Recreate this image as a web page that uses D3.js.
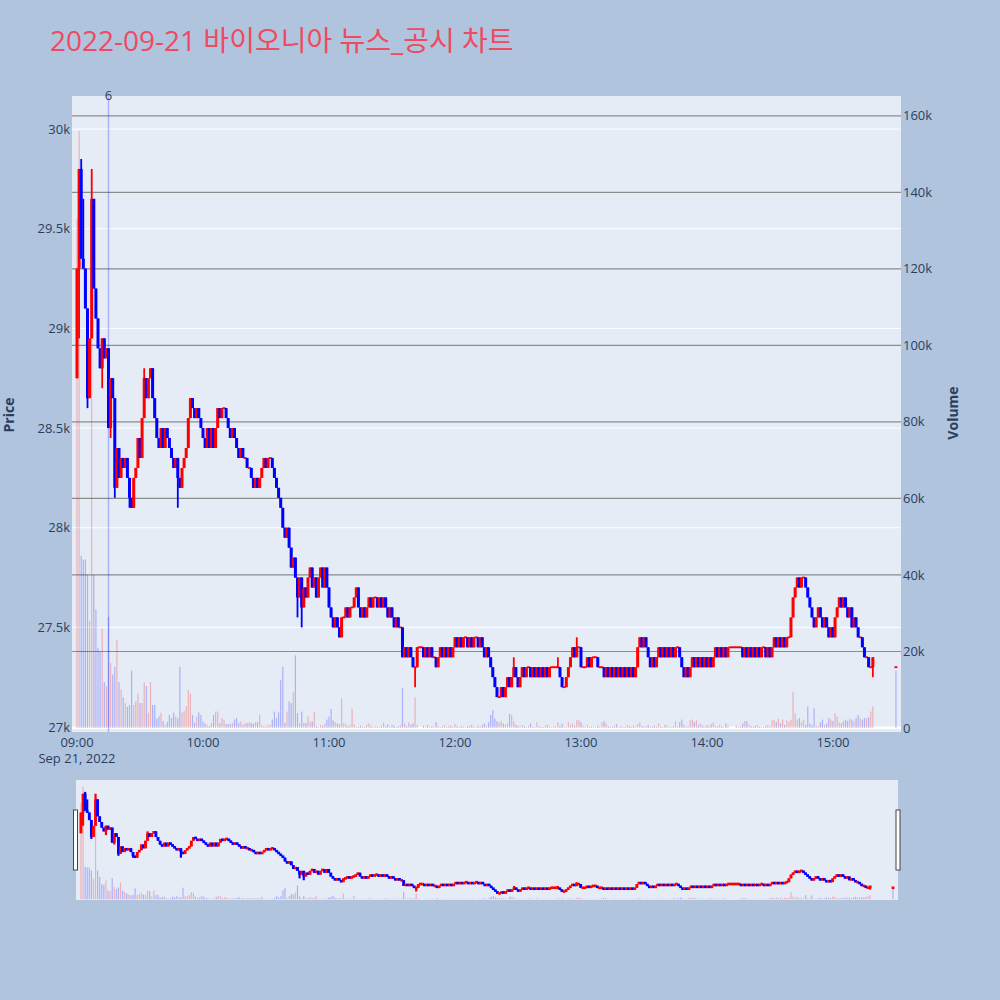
<!DOCTYPE html>
<html>
<head>
<meta charset="utf-8">
<script src="https://cdn.jsdelivr.net/npm/d3@7"></script>
<style>
  body { margin: 0; background: #b0c4de; }
  svg { display: block; }
  text { font-family: "Open Sans", "Noto Sans CJK KR", sans-serif; }
</style>
</head>
<body>
<div id="chart"></div>
<script>
// ---- data (per-minute bars, 09:00 .. 15:19, then 15:30 closing auction) ----
var titleText = "2022-09-21 바이오니아 뉴스_공시 차트";
var sessionStart = new Date(2022, 8, 21, 9, 0);
var firstOpen = 28750;

var closes = [
  29300, 29800, 29350, 29300, 29100, 28650, 28950, 29650, 29200, 29050,
  28900, 28800, 28950, 28850, 28900, 28500, 28750, 28650, 28200, 28400,
  28250, 28350, 28300, 28350, 28250, 28150, 28100, 28250, 28300, 28450,
  28350, 28550, 28750, 28650, 28750, 28800, 28650, 28550, 28450, 28400,
  28500, 28400, 28500, 28450, 28400, 28350, 28300, 28350, 28250, 28200,
  28300, 28350, 28400, 28550, 28650, 28600, 28550, 28600, 28550, 28500,
  28450, 28400, 28500, 28400, 28500, 28400, 28500, 28600, 28550, 28600,
  28600, 28550, 28500, 28450, 28500, 28450, 28400, 28350, 28400, 28350,
  28350, 28300, 28300, 28250, 28200, 28250, 28200, 28250, 28300, 28350,
  28300, 28350, 28350, 28300, 28250, 28200, 28150, 28100, 28000, 27950,
  28000, 27900, 27800, 27850, 27750, 27650, 27750, 27600, 27700, 27650,
  27750, 27800, 27700, 27750, 27650, 27750, 27800, 27700, 27800, 27700,
  27600, 27550, 27500, 27550, 27500, 27450, 27550, 27550, 27600, 27550,
  27600, 27600, 27650, 27700, 27600, 27550, 27600, 27550, 27600, 27650,
  27600, 27650, 27650, 27600, 27650, 27600, 27650, 27600, 27550, 27600,
  27550, 27500, 27550, 27500, 27500, 27350, 27400, 27350, 27400, 27350,
  27300, 27300, 27400, 27400, 27400, 27350, 27400, 27350, 27400, 27350,
  27350, 27300, 27350, 27400, 27350, 27400, 27350, 27400, 27350, 27400,
  27450, 27400, 27450, 27400, 27450, 27450, 27400, 27450, 27400, 27450,
  27450, 27400, 27450, 27400, 27350, 27400, 27350, 27300, 27250, 27200,
  27150, 27150, 27200, 27150, 27200, 27250, 27200, 27250, 27300, 27250,
  27200, 27250, 27300, 27250, 27300, 27300, 27250, 27300, 27250, 27300,
  27250, 27300, 27250, 27300, 27250, 27300, 27300, 27300, 27300, 27300,
  27250, 27200, 27200, 27250, 27300, 27350, 27400, 27350, 27400, 27400,
  27300, 27300, 27300, 27350, 27300, 27350, 27350, 27350, 27300, 27300,
  27300, 27250, 27300, 27250, 27300, 27250, 27300, 27250, 27300, 27250,
  27300, 27250, 27300, 27250, 27300, 27250, 27300, 27400, 27450, 27400,
  27450, 27400, 27350, 27300, 27350, 27300, 27350, 27400, 27350, 27400,
  27350, 27400, 27350, 27400, 27350, 27400, 27400, 27350, 27300, 27250,
  27300, 27250, 27300, 27350, 27300, 27350, 27300, 27350, 27300, 27350,
  27300, 27350, 27300, 27350, 27400, 27350, 27400, 27350, 27400, 27350,
  27400, 27400, 27400, 27400, 27400, 27400, 27400, 27350, 27400, 27350,
  27400, 27350, 27400, 27350, 27400, 27350, 27400, 27400, 27350, 27400,
  27350, 27400, 27450, 27400, 27450, 27400, 27450, 27400, 27450, 27450,
  27550, 27650, 27700, 27750, 27700, 27750, 27750, 27700, 27650, 27600,
  27550, 27500, 27550, 27600, 27550, 27500, 27550, 27500, 27450, 27500,
  27450, 27550, 27600, 27650, 27600, 27650, 27600, 27550, 27600, 27500,
  27550, 27500, 27450, 27450, 27400, 27350, 27350, 27300, 27300, 27350
];

// volume in thousands of shares, one per minute
var volumeK = [
  133, 156, 45, 44, 44, 40, 28, 146, 40, 31,
  21, 20, 26, 12, 11, 29, 17, 14, 16, 23,
  12, 10, 8, 6.5, 5.5, 6, 15, 6, 7, 9,
  6.5, 6.5, 12, 11, 4, 12, 6, 6, 2.4, 3,
  4, 1.8, 0.8, 1.6, 3.4, 2.6, 4, 3, 2.6, 16,
  4.1, 4.4, 5.7, 10, 9, 3.4, 1.4, 3, 4.1, 3.4,
  1.7, 1.2, 0.8, 0.5, 1.3, 3.4, 4.3, 4.3, 1.3, 2.6,
  2.2, 1, 1, 1, 1.3, 2.2, 2.6, 1.3, 1.7, 0.8,
  1.3, 1.3, 1.5, 1.3, 1.1, 1.5, 1.5, 3.5, 0.8, 0.5,
  0.4, 0.8, 0.8, 2.2, 4.3, 2.6, 4.1, 12.5, 16, 1.3,
  4.3, 7, 6.5, 9.5, 19, 3.9, 1.3, 4.3, 1.3, 1.3,
  3, 1.7, 1.7, 4.1, 0.5, 0.3, 0.8, 0.6, 1.2, 2.2,
  3, 5, 2, 1.5, 1.2, 1, 7.8, 1.3, 1, 0.5,
  0.8, 5, 1, 0.4, 0.3, 0.6, 0.4, 0.3, 0.8, 1.2,
  0.6, 0.3, 0.5, 0.4, 0.3, 0.6, 1.5, 0.5, 1, 0.4,
  0.8, 0.6, 0.3, 0.5, 0.7, 10.5, 1.2, 0.5, 1.5, 0.8,
  1.2, 8, 0.8, 0, 0, 0.6, 0.4, 0.8, 0.3, 0.5,
  0.4, 1.5, 0.6, 0.3, 0.4, 0.8, 0.3, 0.5, 0.6, 0.4,
  1, 0.5, 0.3, 0.6, 0.4, 0.3, 0.5, 0.6, 0.8, 0.4,
  0.3, 0.6, 0.4, 0.8, 1.2, 0.6, 1.5, 3.4, 4.7, 2.5,
  1.8, 1.5, 1.8, 1.2, 0.8, 1.2, 3.7, 3.4, 1.8, 0.8,
  0.6, 0.4, 0.8, 0.5, 0.3, 0.6, 1.2, 0.4, 0.3, 1.5,
  0.5, 0.4, 0.3, 0.6, 0.8, 0.4, 0.3, 0.5, 0.4, 1.5,
  0.6, 1.2, 0.4, 0.3, 1.6, 0.8, 1.2, 0.6, 2, 2.2,
  1.5, 0.6, 0.4, 0.8, 0.3, 0.5, 0.4, 0.3, 0.6, 0.4,
  1.5, 1.8, 1.2, 0.5, 0.3, 0.4, 0.6, 1, 0.3, 0.5,
  0.4, 0.3, 0.8, 0.5, 0.4, 0.6, 0.4, 1, 1.4, 0.6,
  0.5, 0.4, 0.8, 0.3, 0.5, 0.6, 0.4, 1.2, 0.4, 0.3,
  0.8, 0.6, 0.4, 0.3, 0.5, 1.8, 0.5, 1.5, 2.2, 0.8,
  0.5, 0.4, 2, 2.2, 1.5, 2, 0.8, 1.2, 0.6, 0.4,
  0.8, 0.5, 1, 1.5, 0.6, 0.4, 0.8, 0.5, 0.3, 1.2,
  0.6, 0, 0, 0, 0.6, 0.3, 0.5, 1.2, 1.8, 1.8,
  0.8, 0.5, 0.4, 0.6, 0.8, 0.4, 0.3, 0.3, 0.5, 0.8,
  0.4, 2, 2.2, 1.5, 2.4, 1.2, 2.2, 0.8, 2, 1.6,
  2.2, 9.5, 3.8, 2.2, 2.6, 1.5, 2.2, 0.8, 5.6, 1.2,
  0.8, 5.2, 0.6, 0.5, 1.5, 2.2, 0.8, 1.2, 2.6, 2.2,
  1.8, 3.8, 3, 1.5, 1.2, 1.8, 2.2, 1.8, 2.5, 2.2,
  1.8, 2.6, 3.4, 2.5, 2.2, 2.6, 2.6, 2.8, 4.3, 5.7
];

// [minute index, price] for wicks reaching past the body
var wickHigh = [[2, 29850], [3, 29650], [7, 29800], [32, 28800], [36, 28800],
  [155, 27500], [208, 27350], [229, 27350], [238, 27450]];
var wickLow = [[1, 28950], [5, 28600], [12, 28700], [16, 28450], [18, 28150],
  [25, 28100], [48, 28100], [105, 27550], [107, 27500], [161, 27200], [379, 27250]];

// 15:30 closing auction
var auctionMinute = 390, auctionPrice = 27300, auctionVolumeK = 15;

var newsMarks = [{minute: 15, label: "6"}];

var priceTicks = [27000, 27500, 28000, 28500, 29000, 29500, 30000];
var volumeTicks = [0, 20000, 40000, 60000, 80000, 100000, 120000, 140000, 160000];
var hourTicks = [9, 10, 11, 12, 13, 14, 15];

// ---- build bars ----
function at(min) { return d3.timeMinute.offset(sessionStart, min); }
var hiMap = new Map(wickHigh), loMap = new Map(wickLow);

var bars = closes.map(function(c, i) {
  var o = i === 0 ? firstOpen : closes[i - 1];
  var h = Math.max(o, c, hiMap.get(i) || 0);
  var l = Math.min(o, c, loMap.get(i) || Infinity);
  return {t: at(i), o: o, h: h, l: l, c: c, prev: o, v: volumeK[i] * 1000};
});
bars.push({t: at(auctionMinute), o: auctionPrice, h: auctionPrice, l: auctionPrice,
  c: auctionPrice, prev: closes[closes.length - 1], v: auctionVolumeK * 1000});

var UP = "#ff0000", DOWN = "#0000ff";
var UP_VOL = "rgba(255,0,0,0.25)", DOWN_VOL = "rgba(0,0,255,0.25)";

// ---- layout ----
var W = 1000, H = 1000;
var plot = {left: 72, right: 901, top: 96, bottom: 732};
var slider = {left: 76, right: 898, top: 780, bottom: 900};

var svg = d3.select("#chart").append("svg")
  .attr("width", W).attr("height", H);

svg.append("rect").attr("width", W).attr("height", H).attr("fill", "#b0c4de");

svg.append("text")
  .attr("x", 50).attr("y", 51)
  .attr("font-size", 28).attr("fill", "#ee4a60")
  .text(titleText);

var xDomain = [d3.timeSecond.offset(sessionStart, -143), d3.timeSecond.offset(sessionStart, 392 * 60 + 24)];
var x = d3.scaleTime().domain(xDomain).range([plot.left, plot.right]);
var yP = d3.scaleLinear().domain([26975, 30166]).range([plot.bottom, plot.top]);
var yV = d3.scaleLinear().domain([-1046, 165200]).range([plot.bottom, plot.top]);

var xs = d3.scaleTime().domain(xDomain).range([slider.left, slider.right]);
var yPs = d3.scaleLinear().domain(yP.domain()).range([slider.bottom, slider.top]);
var yVs = d3.scaleLinear().domain(yV.domain()).range([slider.bottom, slider.top]);

// main plot background
svg.append("rect")
  .attr("x", plot.left).attr("y", plot.top)
  .attr("width", plot.right - plot.left).attr("height", plot.bottom - plot.top)
  .attr("fill", "#e5ecf6");

var grid = svg.append("g");
// price grid (white)
grid.selectAll(".pg").data(priceTicks).enter().append("line")
  .attr("x1", plot.left).attr("x2", plot.right)
  .attr("y1", function(d) { return yP(d); }).attr("y2", function(d) { return yP(d); })
  .attr("stroke", "#ffffff").attr("stroke-width", 1);
// volume grid (gray), zero line white
grid.selectAll(".vg").data(volumeTicks).enter().append("line")
  .attr("x1", plot.left).attr("x2", plot.right)
  .attr("y1", function(d) { return yV(d); }).attr("y2", function(d) { return yV(d); })
  .attr("stroke", function(d) { return d === 0 ? "#ffffff" : "#8c8c8c"; })
  .attr("stroke-width", function(d) { return d === 0 ? 2 : 1.2; });

// volume colour follows close vs previous close
function drawVolume(g, xsc, ysc, w) {
  g.selectAll("rect").data(bars).enter().append("rect")
    .attr("x", function(d) { return xsc(d.t) - w / 2; })
    .attr("width", w)
    .attr("y", function(d) { return ysc(d.v); })
    .attr("height", function(d) { return Math.max(0, ysc(0) - ysc(d.v)); })
    .attr("fill", function(d) { return d.c >= d.prev ? UP_VOL : DOWN_VOL; });
}

function drawCandles(g, xsc, ysc, bodyW, minH, wickW) {
  var c = g.selectAll("g").data(bars).enter().append("g");
  c.append("line")
    .attr("x1", function(d) { return xsc(d.t); })
    .attr("x2", function(d) { return xsc(d.t); })
    .attr("y1", function(d) { return ysc(d.h); })
    .attr("y2", function(d) { return ysc(d.l); })
    .attr("stroke", function(d) { return d.c >= d.o ? UP : DOWN; })
    .attr("stroke-width", wickW);
  c.append("rect")
    .attr("x", function(d) { return xsc(d.t) - bodyW / 2; })
    .attr("width", bodyW)
    .attr("y", function(d) {
      var top = ysc(Math.max(d.o, d.c)), bot = ysc(Math.min(d.o, d.c));
      return bot - top < minH ? (top + bot) / 2 - minH / 2 : top;
    })
    .attr("height", function(d) {
      return Math.max(minH, ysc(Math.min(d.o, d.c)) - ysc(Math.max(d.o, d.c)));
    })
    .attr("fill", function(d) { return d.c >= d.o ? UP : DOWN; });
}

var clipId = "plotclip";
svg.append("clipPath").attr("id", clipId).append("rect")
  .attr("x", plot.left).attr("y", plot.top)
  .attr("width", plot.right - plot.left).attr("height", plot.bottom - plot.top);
var main = svg.append("g").attr("clip-path", "url(#" + clipId + ")");
drawVolume(main.append("g"), x, yV, 1.2);
drawCandles(main.append("g"), x, yP, 3.0, 1.8, 1.8);

// news marker
newsMarks.forEach(function(n) {
  var nx = x(at(n.minute));
  svg.append("line")
    .attr("x1", nx).attr("x2", nx).attr("y1", plot.top).attr("y2", plot.bottom)
    .attr("stroke", "rgba(0,0,255,0.25)").attr("stroke-width", 1.5);
  svg.append("text")
    .attr("x", nx).attr("y", plot.top + 4)
    .attr("text-anchor", "middle").attr("font-size", 13).attr("fill", "#2a3f5f")
    .text(n.label);
});

// left price axis labels
var fmt = d3.format("~s");
svg.append("g").selectAll("text").data(priceTicks).enter().append("text")
  .attr("x", plot.left - 2).attr("y", function(d) { return yP(d); })
  .attr("dy", "0.35em").attr("text-anchor", "end")
  .attr("font-size", 13).attr("fill", "#2a3f5f")
  .text(function(d) { return fmt(d); });

// right volume axis labels
svg.append("g").selectAll("text").data(volumeTicks).enter().append("text")
  .attr("x", plot.right + 2).attr("y", function(d) { return yV(d); })
  .attr("dy", "0.35em").attr("text-anchor", "start")
  .attr("font-size", 13).attr("fill", "#2a3f5f")
  .text(function(d) { return fmt(d); });

// x axis labels
var tfmt = d3.timeFormat("%H:%M");
svg.append("g").selectAll("text").data(hourTicks).enter().append("text")
  .attr("x", function(h) { return x(at((h - 9) * 60)); })
  .attr("y", 747).attr("text-anchor", "middle")
  .attr("font-size", 13).attr("fill", "#2a3f5f")
  .text(function(h) { return tfmt(at((h - 9) * 60)); });
svg.append("text")
  .attr("x", x(sessionStart)).attr("y", 763).attr("text-anchor", "middle")
  .attr("font-size", 13).attr("fill", "#2a3f5f")
  .text(d3.timeFormat("%b %-d, %Y")(sessionStart));

// axis titles
svg.append("text")
  .attr("transform", "translate(14,415) rotate(-90)")
  .attr("text-anchor", "middle").attr("font-size", 14).attr("font-weight", "bold")
  .attr("fill", "#2a3f5f").text("Price");
svg.append("text")
  .attr("transform", "translate(958,413) rotate(-90)")
  .attr("text-anchor", "middle").attr("font-size", 14).attr("font-weight", "bold")
  .attr("fill", "#2a3f5f").text("Volume");

// range slider
svg.append("rect")
  .attr("x", slider.left).attr("y", slider.top)
  .attr("width", slider.right - slider.left).attr("height", slider.bottom - slider.top)
  .attr("fill", "#e5ecf6");
var sclip = "sliderclip";
svg.append("clipPath").attr("id", sclip).append("rect")
  .attr("x", slider.left).attr("y", slider.top)
  .attr("width", slider.right - slider.left).attr("height", slider.bottom - slider.top);
var sg = svg.append("g").attr("clip-path", "url(#" + sclip + ")");
drawVolume(sg.append("g"), xs, yVs, 1.2);
drawCandles(sg.append("g"), xs, yPs, 2.8, 2.6, 2.2);

[slider.left - 2.5, slider.right - 2].forEach(function(hx) {
  svg.append("rect")
    .attr("x", hx).attr("y", 810).attr("width", 4).attr("height", 60)
    .attr("fill", "#ffffff").attr("stroke", "#444").attr("stroke-width", 1);
});
</script>
</body>
</html>
